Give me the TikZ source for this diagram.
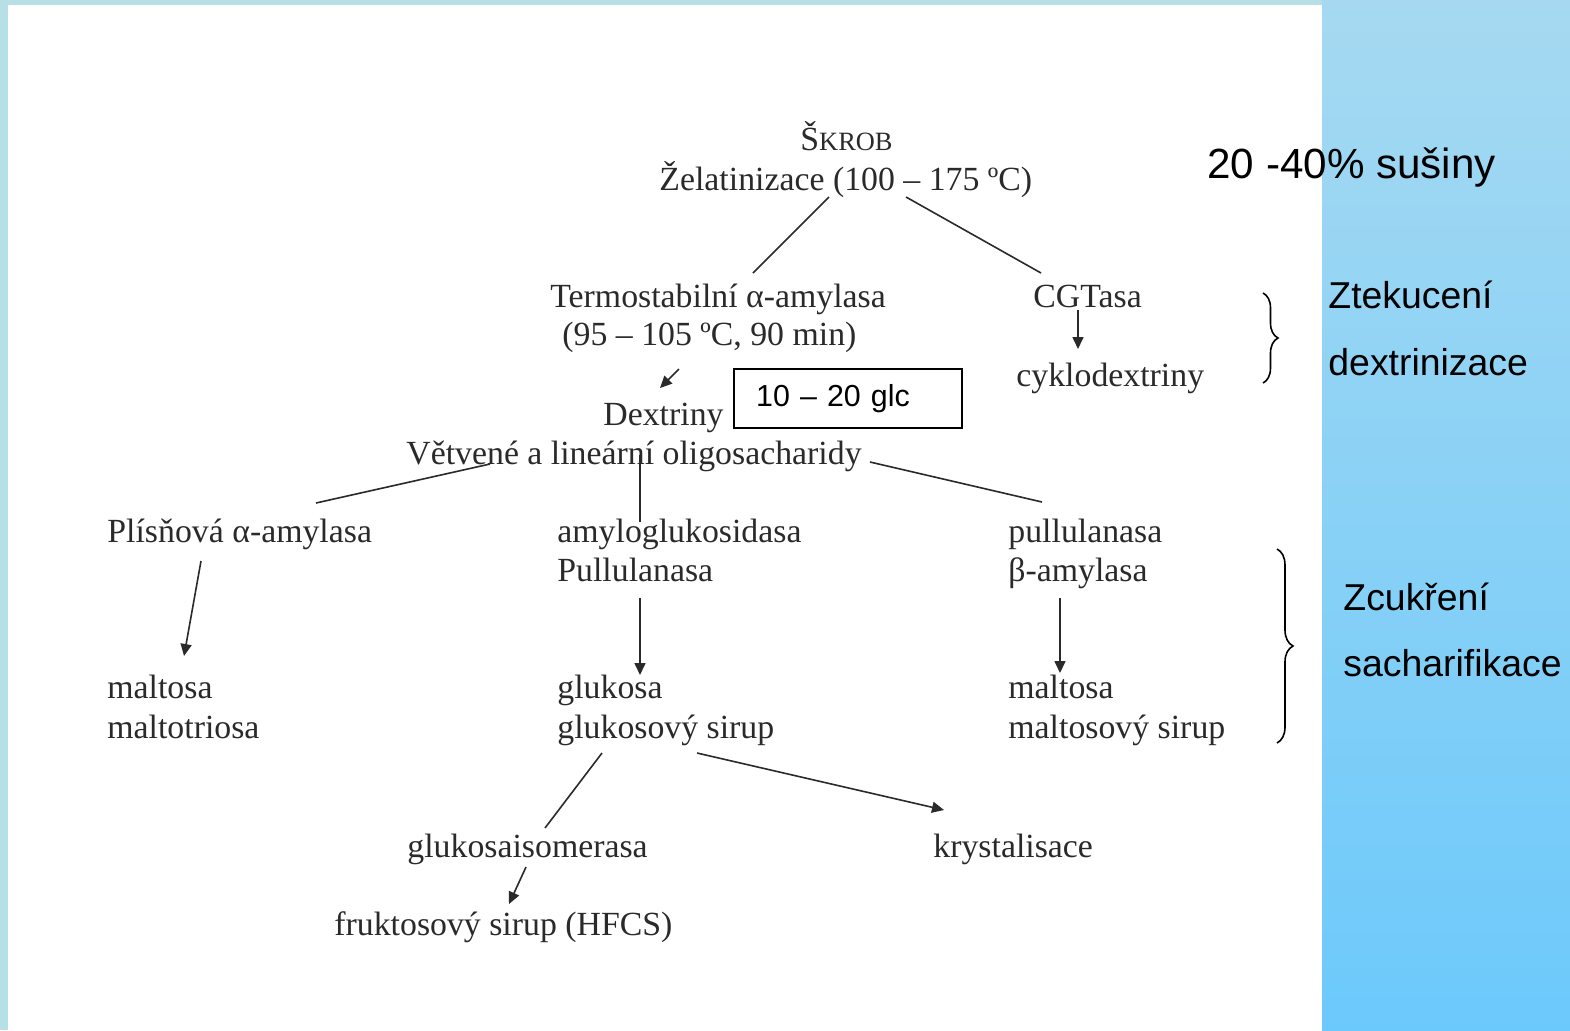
\documentclass[tikz,border=0pt]{standalone}
\usepackage{fontspec}
\setmainfont{Liberation Serif}
\setsansfont{Liberation Sans}
\usetikzlibrary{arrows.meta,calc,decorations.pathreplacing}
\definecolor{bandblue}{HTML}{B7DFE6}
\definecolor{paneltop}{HTML}{A6D9F1}
\definecolor{panelbot}{HTML}{6CC9FB}
\definecolor{ink}{HTML}{2A2A2A}
\tikzset{
  lbl/.style={anchor=base west, inner sep=0pt, text=ink, font=\fontsize{16.9pt}{20pt}\selectfont},
  side/.style={anchor=base west, inner sep=0pt, text=black, font=\sffamily\fontsize{18.7pt}{22pt}\selectfont},
  bigside/.style={side, font=\sffamily\fontsize{21.1pt}{24pt}\selectfont},
  glcbox/.style={draw=black, line width=1.1pt, anchor=north west, inner xsep=11pt, inner ysep=0pt,
     text width=92pt, align=left, minimum height=29.5pt, text=black, font=\sffamily\fontsize{15.2pt}{18pt}\selectfont},
  conn/.style={draw=ink, line width=0.8pt},
  arr/.style={conn, -{Triangle[length=6pt,width=5.5pt]}},
  brc/.style={draw=black, line width=0.8pt, decorate},
}
\begin{document}
\begin{tikzpicture}[x=0.5pt,y=-0.5pt]
\useasboundingbox (0,0) rectangle (1570,1030);
\fill[bandblue] (0,0) rectangle (1570,1030);
\fill[white] (8,5) rectangle (1322,1030);
\shade[top color=paneltop, bottom color=panelbot] (1322,0) rectangle (1570,1030);

% main flow labels
\node[lbl] (skrob) at (800,150) {Š{\fontsize{13.2pt}{15pt}\selectfont KROB}};
\node[lbl] (zel) at (659,190) {Želatinizace (100 – 175 ºC)};
\node[lbl] (termo1) at (550,307) {Termostabilní α-amylasa};
\node[lbl] (termo2) at (562,345) {(95 – 105 ºC, 90 min)};
\node[lbl] (cgt) at (1033,307) {CGTasa};
\node[lbl] (cyklo) at (1016,386) {cyklodextriny};
\node[lbl] (dextr) at (603,425) {Dextriny};
\node[glcbox] (glc) at (733,368) {10 – 20 glc};
\node[lbl] (vetv) at (406,464) {Větvené a lineární oligosacharidy};
\node[lbl] (plis) at (107,542) {Plísňová α-amylasa};
\node[lbl] (malt1) at (107,698) {maltosa};
\node[lbl] (maltri) at (107,738) {maltotriosa};
\node[lbl] (amylo) at (557,542) {amyloglukosidasa};
\node[lbl] (pull1) at (557,581) {Pullulanasa};
\node[lbl] (gluk) at (557,698) {glukosa};
\node[lbl] (gluksir) at (557,738) {glukosový sirup};
\node[lbl] (pull2) at (1008,542) {pullulanasa};
\node[lbl] (beta) at (1008,581) {β-amylasa};
\node[lbl] (malt2) at (1008,698) {maltosa};
\node[lbl] (maltsir) at (1008,738) {maltosový sirup};
\node[lbl] (isom) at (407,857) {glukosaisomerasa};
\node[lbl] (kryst) at (933,857) {krystalisace};
\node[lbl] (frukt) at (334,935) {fruktosový sirup (HFCS)};

% side labels
\node[bigside] (susiny) at (1207,178) {20 -40\% sušiny};
\node[side] (ztek) at (1328,308) {Ztekucení};
\node[side] (dextrin) at (1328,375) {dextrinizace};
\node[side] (zcuk) at (1343,610) {Zcukření};
\node[side] (sach) at (1343,676) {sacharifikace};

% connectors
\draw[conn] ($(zel.base west)+(170,7)$) -- ($(termo1.base west)+(203,-34)$);
\draw[conn] ($(zel.base west)+(247,7)$) -- ($(cgt.base west)+(8,-34)$);
\draw[arr] ($(cgt.base west)+(45,3)$) -- ($(cyklo.base west)+(62,-37)$);
\draw[arr] ($(termo2.base west)+(117,24)$) -- ($(dextr.base west)+(57,-37)$);
\draw[conn] ($(vetv.base west)+(84,0)$) -- ($(plis.base west)+(209,-39)$);
\draw[conn] ($(vetv.base west)+(234,-9)$) -- ($(amylo.base west)+(83,-20)$);
\draw[conn] ($(vetv.base west)+(464,-2)$) -- ($(pull2.base west)+(34,-40)$);
\draw[arr] ($(plis.base west)+(94,19)$) -- ($(malt1.base west)+(77,-42)$);
\draw[arr] ($(pull1.base west)+(83,17)$) -- ($(gluk.base west)+(83,-23)$);
\draw[arr] ($(beta.base west)+(52,17)$) -- ($(malt2.base west)+(52,-25)$);
\draw[conn] ($(gluksir.base west)+(45,15)$) -- ($(isom.base west)+(138,-29)$);
\draw[arr] ($(gluksir.base west)+(140,15)$) -- ($(kryst.base west)+(11,-47)$);
\draw[arr] ($(isom.base west)+(119,10)$) -- ($(frukt.base west)+(175,-31)$);

% braces
\draw[brc, decoration={brace, amplitude=7.5pt}] (1263,293) -- (1263,383);
\draw[brc, decoration={brace, amplitude=8pt}] (1277,549) -- (1277,743);
\end{tikzpicture}
\end{document}
